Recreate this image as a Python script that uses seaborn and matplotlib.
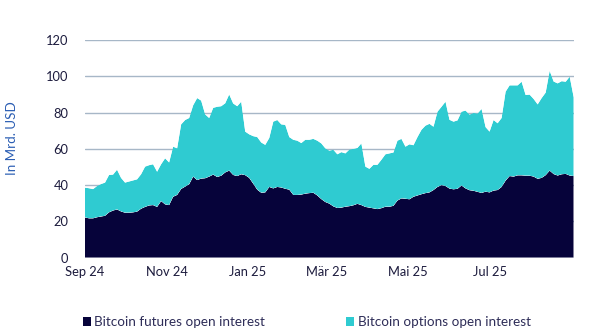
import numpy as np
import pandas as pd
import matplotlib
matplotlib.use("Agg")
import matplotlib.pyplot as plt
from matplotlib.patches import Patch
import seaborn as sns
import seaborn.objects as so

# Open interest in billions USD, one reading every three days from 1 Sep 2024
start_date = "2024-09-01"
step_days = 3

futures_oi = [
    22.2, 21.7, 21.7, 22.3, 22.7, 23.1, 25.0, 26.0, 26.6, 25.5,
    24.8, 24.8, 25.0, 25.4, 27.0, 28.0, 28.8, 29.0, 28.0, 31.2,
    29.4, 29.0, 33.6, 34.6, 37.9, 39.2, 40.5, 44.7, 42.8, 43.6,
    43.8, 44.7, 45.8, 44.5, 45.2, 47.0, 48.0, 45.6, 45.0, 46.0,
    45.5, 44.0, 40.8, 37.5, 35.8, 36.0, 39.0, 38.2, 39.0, 38.7,
    38.0, 37.5, 34.6, 34.6, 34.8, 35.3, 35.6, 35.8, 34.3, 32.3,
    30.7, 29.8, 28.3, 27.4, 27.6, 28.1, 28.4, 28.9, 29.7, 29.0,
    28.0, 27.6, 27.2, 26.8, 27.3, 28.1, 28.1, 28.6, 31.5, 32.7,
    32.5, 32.2, 33.6, 34.3, 35.0, 35.6, 36.0, 37.3, 39.0, 40.0,
    39.5, 38.1, 37.7, 38.0, 39.8, 38.2, 37.2, 36.9, 36.3, 35.7,
    36.4, 36.0, 37.0, 37.3, 39.0, 42.5, 45.0, 44.7, 45.4, 45.4,
    45.2, 45.2, 44.7, 43.5, 44.0, 45.5, 48.0, 46.1, 45.3, 46.0,
    46.2, 45.3, 45.0,
]

options_oi = [
    16.4, 16.6, 16.1, 17.2, 17.9, 18.3, 20.6, 19.8, 21.9, 18.5,
    16.6, 17.2, 17.6, 17.8, 19.0, 22.2, 22.2, 22.5, 19.4, 20.3,
    25.4, 23.5, 27.6, 25.7, 35.6, 36.7, 36.5, 39.3, 45.2, 43.0,
    35.2, 32.3, 36.8, 38.7, 38.3, 38.1, 42.0, 39.4, 38.5, 40.0,
    24.0, 24.0, 26.2, 29.0, 27.7, 26.2, 27.0, 36.8, 36.9, 34.8,
    35.2, 29.0, 30.4, 29.9, 28.4, 29.7, 29.4, 29.7, 30.2, 30.7,
    29.6, 29.2, 31.2, 29.6, 30.6, 29.4, 31.2, 31.1, 30.8, 34.0,
    22.2, 21.4, 24.0, 24.4, 26.7, 28.9, 29.4, 29.4, 33.0, 32.8,
    28.7, 30.3, 28.4, 32.2, 35.5, 37.2, 37.8, 34.9, 41.5, 43.2,
    46.5, 37.9, 37.3, 37.7, 40.7, 42.9, 41.7, 42.9, 43.2, 46.3,
    35.6, 33.5, 38.9, 36.8, 38.0, 49.0, 50.0, 50.3, 49.6, 51.6,
    44.5, 44.7, 42.8, 41.0, 44.0, 45.5, 55.0, 51.0, 50.8, 51.3,
    50.8, 54.5, 43.4,
]

series_names = ["Bitcoin futures open interest", "Bitcoin options open interest"]
series_colors = ["#06033a", "#2fcbd1"]

month_ticks = ["2024-09-01", "2024-11-01", "2025-01-01", "2025-03-01", "2025-05-01", "2025-07-01"]
month_labels = ["Sep 24", "Nov 24", "Jan 25", "Mär 25", "Mai 25", "Jul 25"]
y_ticks = [0, 20, 40, 60, 80, 100, 120]

dates = pd.date_range(start_date, periods=len(futures_oi), freq=f"{step_days}D")
df = pd.concat([
    pd.DataFrame({"date": dates, "value": futures_oi, "series": series_names[0]}),
    pd.DataFrame({"date": dates, "value": options_oi, "series": series_names[1]}),
], ignore_index=True)

sns.set_theme(style="white")
plt.rcParams["font.family"] = ["Lato", "DejaVu Sans"]

text_dark = "#1c1b3d"
fig = plt.figure(figsize=(6.05, 3.32), dpi=100)
ax = fig.add_axes([85 / 605, 1 - 257.7 / 332, (573.7 - 85) / 605, (257.7 - 40) / 332])

(
    so.Plot(df, x="date", y="value", color="series")
    .add(so.Area(alpha=1, edgewidth=0), so.Stack(), legend=False)
    .scale(color=so.Nominal(dict(zip(series_names, series_colors)), order=series_names))
    .on(ax)
    .plot()
)

ax.set_facecolor("white")
ax.set_ylim(0, 120)
ax.set_yticks(y_ticks)
ax.set_xlim(pd.Timestamp(start_date), dates[-1])
ax.set_xticks([pd.Timestamp(d) for d in month_ticks])
ax.set_xticklabels(month_labels)
ax.grid(axis="y", color="#a7b7c7", linewidth=1.0)
ax.grid(axis="x", visible=False)
ax.set_axisbelow(True)
for spine in ax.spines.values():
    spine.set_visible(False)
ax.tick_params(axis="both", length=0, labelsize=9.3, labelcolor=text_dark)
ax.tick_params(axis="y", pad=12)
ax.tick_params(axis="x", pad=6)
ax.set_xlabel("")
ax.set_ylabel("In Mrd. USD", color="#2a5db3", fontsize=9.6)
ax.yaxis.set_label_coords(-0.137, 0.55)

handles = [Patch(facecolor=c, edgecolor="none") for c in series_colors]
fig.legend(
    handles, series_names, loc="center", bbox_to_anchor=(0.507, 0.03), ncol=2,
    frameon=False, fontsize=9.7, labelcolor="#2e2d58", handlelength=0.6,
    handleheight=0.6, handletextpad=0.25, columnspacing=6.0,
)

fig.savefig("out.png", dpi=100, facecolor="white")
